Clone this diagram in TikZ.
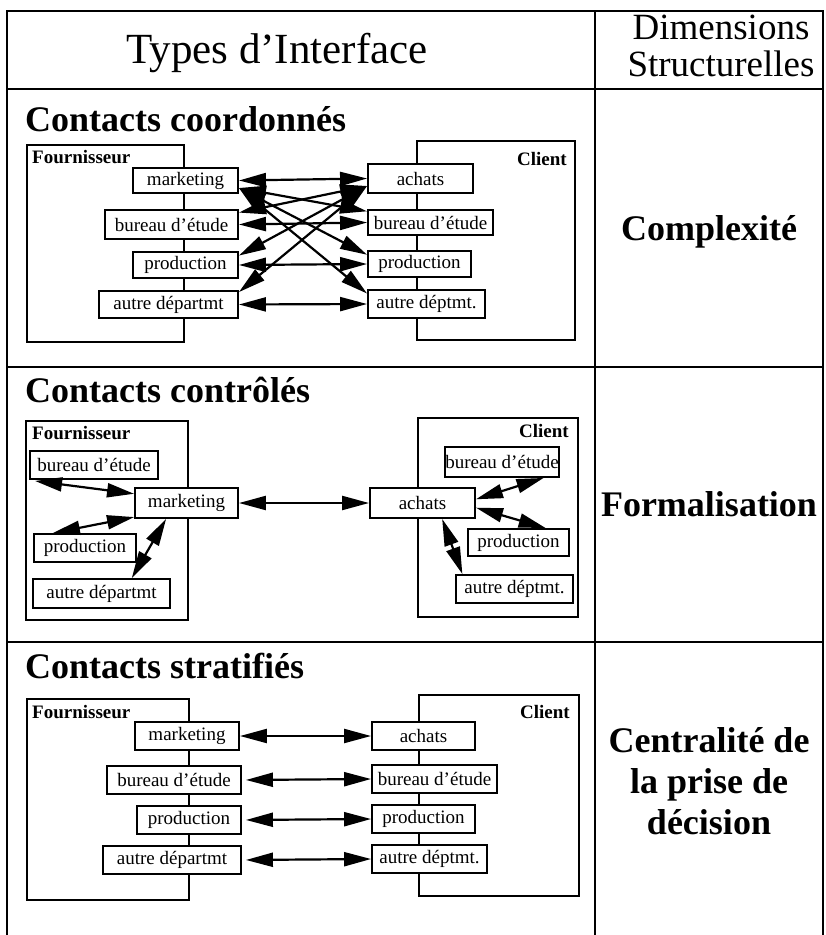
\documentclass[tikz,border=0pt]{standalone}
\usepackage{fontspec}
\setmainfont{Liberation Serif}
\usetikzlibrary{positioning, arrows.meta, calc}

\begin{document}
\begin{tikzpicture}[
  x=1pt, y=-1pt,
  rule/.style={line width=2.4pt},
  org/.style={rectangle, draw, line width=2pt, inner sep=0pt},
  dept/.style={rectangle, draw, fill=white, line width=1.9pt, inner sep=0pt,
    font=\fontsize{19}{21}\selectfont},
  wh/.style 2 args={minimum width=#1pt, minimum height=#2pt},
  orgname/.style={inner sep=0pt, font=\fontsize{19}{21}\selectfont\bfseries},
  rowtitle/.style={anchor=base west, inner sep=0pt,
    font=\fontsize{36}{40}\selectfont\bfseries},
  dimname/.style={anchor=base, align=center, inner sep=0pt,
    font=\fontsize{36}{41}\selectfont\bfseries},
  hdr/.style={anchor=base, align=center, inner sep=0pt},
  link/.style={{Triangle[length=27pt,width=14pt]}-{Triangle[length=27pt,width=14pt]},
    line width=2.2pt},
]
\useasboundingbox (0,0) rectangle (826,935);

% Table
\draw[rule] (7,935) -- (7,11) -- (823,11) -- (823,935);
\draw[rule] (595,11) -- (595,935);
\foreach \y in {89,367,642}
  \draw[rule] (7,\y) -- (823,\y);

% Header
\node[hdr, font=\fontsize{43}{46}\selectfont] (types) at (277,63) {Types d'Interface};
\node[hdr, font=\fontsize{37}{37}\selectfont] (dims) at (721,76) {Dimensions\\Structurelles};

% Dimensions
\node[dimname] (cplx) at (709,240) {Complexité};
\node[dimname] (forml) at (709,516) {Formalisation};
\node[dimname] (centr) at (709,834) {Centralité de\\la prise de\\décision};

% Contacts coordonnes
\node[rowtitle] (t1) at (25,131) {Contacts coordonnés};
\node[org, wh={157}{197}] (f1) at (105.5,243.5) {};
\node[orgname, anchor=base west] (f1lab) at (32,163) {Fournisseur};
\node[org, wh={158}{199}] (c1) at (496,240.5) {};
\node[orgname, anchor=base east] (c1lab) at (567,165) {Client};

\node[dept, wh={105}{25}] (m1) at (185.5,180.5) {marketing};
\node[dept, wh={133}{29}] (b1) at (171.5,224.5) {bureau d'étude};
\node[dept, wh={105}{26}] (p1) at (185.5,265) {production};
\node[dept, wh={139}{27}] (o1) at (168.5,304.5) {autre départmt};
\node[dept, wh={105}{29}] (a1) at (420.5,178.5) {achats};
\node[dept, wh={125}{25}] (bc1) at (430.5,222.5) {bureau d'étude};
\node[dept, wh={103}{26}] (pc1) at (419.5,264) {production};
\node[dept, wh={117}{28}] (oc1) at (426.5,304) {autre déptmt.};

\draw[link] (m1.east) -- (a1.west);
\draw[link] (b1.east) -- (bc1.west);
\draw[link] (p1.east) -- (pc1.west);
\draw[link] (o1.east) -- (oc1.west);
\foreach \c in {bc1,pc1,oc1}
  \draw[link] (m1.-8) -- (\c.170);
\foreach \f in {b1,p1,o1}
  \draw[link] (\f.10) -- (a1.188);

% Contacts controles
\node[rowtitle] (t2) at (25,402) {Contacts contrôlés};
\node[org, wh={162}{199}] (f2) at (107,520.5) {};
\node[orgname, anchor=base west] (f2lab) at (32,439) {Fournisseur};
\node[org, wh={160}{199}] (c2) at (498,517.5) {};
\node[orgname, anchor=base east] (c2lab) at (569,437) {Client};

\node[dept, wh={128}{28}] (b2) at (94,465) {bureau d'étude};
\node[dept, wh={103}{30}] (m2) at (186.5,503) {marketing};
\node[dept, wh={102}{28}] (p2) at (85,548) {production};
\node[dept, wh={137}{29}] (o2) at (101.5,593.5) {autre départmt};
\node[dept, wh={112}{30}] (bc2) at (502,462) {bureau d'étude};
\node[dept, wh={105}{30}] (a2) at (422.5,503) {achats};
\node[dept, wh={101}{27}] (pc2) at (518.5,542.5) {production};
\node[dept, wh={117}{28}] (oc2) at (514.5,589) {autre déptmt.};

\draw[link] ($(b2.south west)+(6,1)$) -- (m2.170);
\draw[link] (p2.155) -- (m2.195);
\draw[link] (o2.27) -- (m2.218);
\draw[link] (m2.east) -- (a2.west);
\draw[link] (a2.4) -- (bc2.-21);
\draw[link] (a2.-5) -- (pc2.28);
\draw[link] (a2.-39) -- (oc2.164);

% Contacts stratifies
\node[rowtitle] (t3) at (25,678) {Contacts stratifiés};
\node[org, wh={162}{201}] (f3) at (108,799.5) {};
\node[orgname, anchor=base west] (f3lab) at (32,718) {Fournisseur};
\node[org, wh={160}{201}] (c3) at (499,795.5) {};
\node[orgname, anchor=base east] (c3lab) at (570,718) {Client};

\node[dept, wh={104}{28}] (m3) at (187,736) {marketing};
\node[dept, wh={134}{28}] (b3) at (174,780) {bureau d'étude};
\node[dept, wh={104}{28}] (p3) at (189,820) {production};
\node[dept, wh={138}{28}] (o3) at (172,860) {autre départmt};
\node[dept, wh={103}{28}] (a3) at (423.5,736) {achats};
\node[dept, wh={125}{28}] (bc3) at (434.5,779) {bureau d'étude};
\node[dept, wh={103}{28}] (pc3) at (423.5,819) {production};
\node[dept, wh={115}{28}] (oc3) at (429.5,859) {autre déptmt.};

\draw[link] (m3.east) -- (a3.west);
\draw[link, shorten <=4pt] (b3.east) -- (bc3.west);
\draw[link, shorten <=4pt] (p3.east) -- (pc3.west);
\draw[link, shorten <=4pt] (o3.east) -- (oc3.west);

\end{tikzpicture}
\end{document}
